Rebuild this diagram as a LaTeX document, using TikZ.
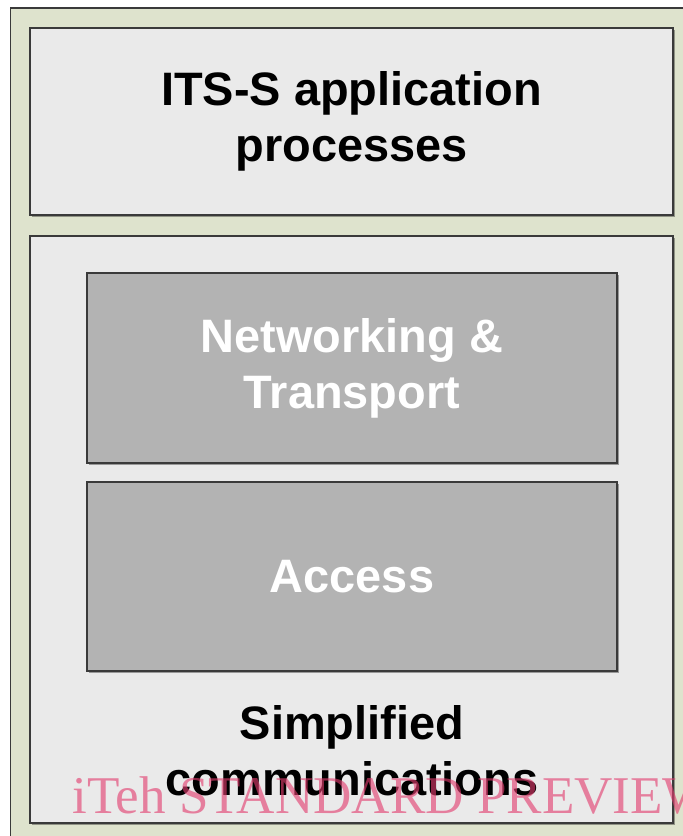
\documentclass[tikz,border=0pt]{standalone}
\usepackage{fontspec}
\setmainfont{Liberation Sans}
\newfontfamily\markfont{Liberation Serif}
\usetikzlibrary{positioning,shadows}
\definecolor{FrameGreen}{RGB}{222,227,205}
\definecolor{PaleBox}{RGB}{234,234,234}
\definecolor{MidGrey}{RGB}{179,179,179}
\definecolor{EdgeGrey}{RGB}{58,58,58}
\definecolor{MarkPink}{RGB}{226,60,110}

\begin{document}
\begin{tikzpicture}[font=\fontsize{26.7}{32}\selectfont\bfseries, every node/.style={align=center}]
\tikzset{
  layerbox/.style={draw=EdgeGrey, line width=1.1pt, fill=PaleBox, minimum width=12.86cm, inner sep=0pt,
    drop shadow={shadow xshift=0.04cm, shadow yshift=-0.04cm, fill=black, opacity=0.35}},
  stackbox/.style={layerbox, fill=MidGrey, text=white, minimum width=10.6cm, minimum height=3.79cm}
}
  \useasboundingbox (0,0) rectangle (13.66,-16.72);
  \fill[white] (0,0) rectangle (13.66,-16.72);
  % outer frame, cut off at right and bottom
  \draw[EdgeGrey, line width=1.1pt, fill=FrameGreen] (0.21,-0.16) rectangle (14.2,-17.2);

  \node[layerbox, minimum height=3.74cm] (app) at (7.03,-2.43) {ITS-S application\\processes};
  \node[layerbox, minimum height=11.74cm] (comm) at (7.03,-10.59) {};
  \node[stackbox] (net) at (7.04,-7.36) {Networking \&\\Transport};
  \node[stackbox] (acc) at (7.04,-11.53) {Access};
  \node[inner sep=0pt, below=0.66cm of acc] (commtext) {Simplified\\communications};

  % preview watermark
  \node[anchor=base west, inner sep=0pt, text=MarkPink, text opacity=0.62,
    font=\markfont\fontsize{30.2}{34}\selectfont] (mark) at (1.44,-16.26)
    {iTeh STANDARD PREVIEW};
\end{tikzpicture}
\end{document}
